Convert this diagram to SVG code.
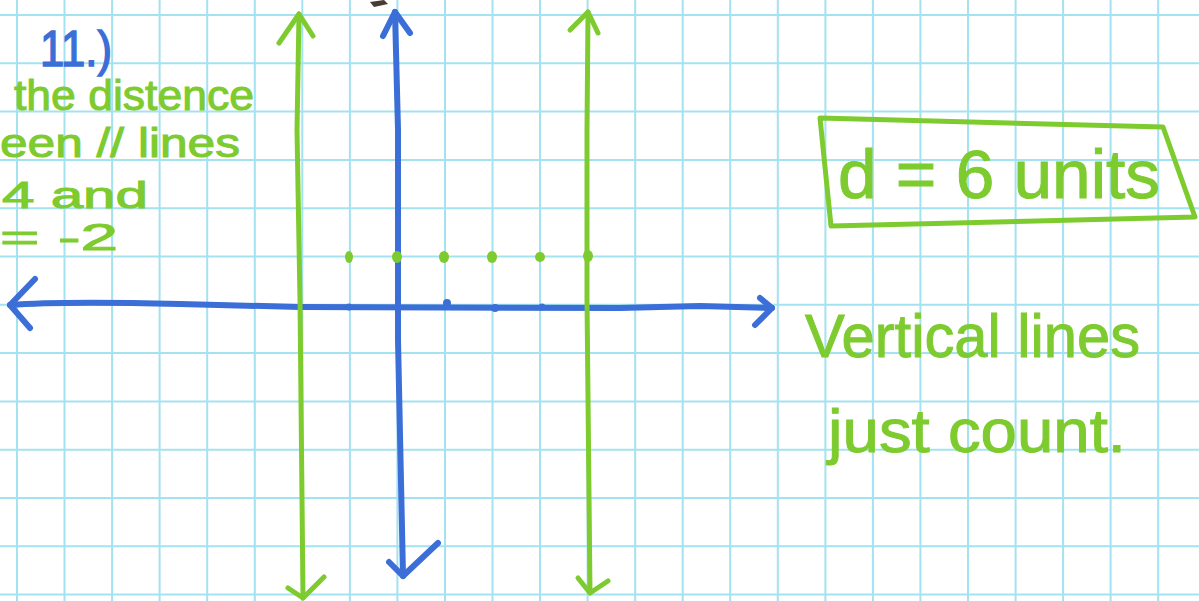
<svg xmlns="http://www.w3.org/2000/svg" width="1199" height="601" viewBox="0 0 1199 601">
<defs>
<style>
.grid{stroke:#a3e2f0;stroke-width:2;fill:none}
.g{stroke:#7dcb2f;stroke-width:5;fill:none;stroke-linecap:round;stroke-linejoin:round}
.b{stroke:#3b6ed6;stroke-width:6;fill:none;stroke-linecap:round;stroke-linejoin:round}
.gt{fill:#7dcb2f;stroke:#7dcb2f;stroke-width:1;font-family:"Liberation Sans",Arial,sans-serif}
.bt{fill:#3b6ed6;stroke:#3b6ed6;stroke-width:1.5;font-family:"Liberation Sans",Arial,sans-serif}
.dot{fill:#7dcb2f}
.tick{fill:#3b6ed6}
</style>
</defs>
<rect width="1199" height="601" fill="#ffffff"/>
<g id="grid" class="grid">
<path d="M17,0V601M64.5,0V601M112.1,0V601M159.6,0V601M207.2,0V601M254.8,0V601M302.3,0V601M349.9,0V601M397.4,0V601M445,0V601M492.5,0V601M540,0V601M587.6,0V601M635.2,0V601M682.7,0V601M730.2,0V601M777.8,0V601M825.4,0V601M872.9,0V601M920.4,0V601M968,0V601M1015.6,0V601M1063.1,0V601M1110.6,0V601M1158.2,0V601"/>
<path d="M0,15H1199M0,63.3H1199M0,111.6H1199M0,159.9H1199M0,208.2H1199M0,256.5H1199M0,304.8H1199M0,353.1H1199M0,401.4H1199M0,449.7H1199M0,498H1199M0,546.3H1199M0,594.6H1199"/>
</g>
<polygon points="370,2 384,0 388,4 374,7" fill="#4a3a35"/>
<g id="connectors">
<g id="x-axis" class="b">
<path d="M10,305 Q60,301 180,304 L300,307 L620,308 L700,306 L772,308"/>
<path d="M35,279 L10,305 L30,328"/>
<path d="M760,298 L772,308 L755,325"/>
</g>
<g id="y-axis" class="b">
<path d="M395,12 L398,130 L398,340 L403,576"/>
<path d="M383,36 L395,12 L410,33"/>
<path d="M389,562 L403,576 L438,543"/>
</g>
<g id="line-x-neg2" class="g">
<path d="M299,14 L297,130 L300,300 L303,598"/>
<path d="M279,43 L299,14 L313,36"/>
<path d="M288,588 L303,598 L324,577"/>
</g>
<g id="line-x-4" class="g">
<path d="M588,12 L587,130 L587,300 L590,593"/>
<path d="M570,30 L588,12 L598,33"/>
<path d="M578,578 L590,593 L608,581"/>
</g>
</g>
<g id="count-dots">
<ellipse class="dot" cx="349" cy="257" rx="4" ry="6"/>
<ellipse class="dot" cx="397" cy="257" rx="5" ry="6"/>
<ellipse class="dot" cx="444" cy="257" rx="5" ry="6"/>
<ellipse class="dot" cx="492" cy="257" rx="5" ry="6"/>
<ellipse class="dot" cx="540" cy="257" rx="5" ry="5"/>
<ellipse class="dot" cx="588" cy="256" rx="5" ry="6"/>
<circle class="tick" cx="349" cy="307" r="3.5"/>
<circle class="tick" cx="447" cy="303" r="4"/>
<circle class="tick" cx="495" cy="308" r="4"/>
<circle class="tick" cx="542" cy="307" r="3.5"/>
</g>
<g id="problem-label">
<text class="bt" x="40" y="66" font-size="50" textLength="72" lengthAdjust="spacingAndGlyphs">11.)</text>
<text class="gt" x="14" y="110" font-size="42" textLength="240" lengthAdjust="spacingAndGlyphs">the distence</text>
<text class="gt" x="0" y="157" font-size="40" textLength="240" lengthAdjust="spacingAndGlyphs">een // lines</text>
<text class="gt" x="2" y="208" font-size="36" textLength="146" lengthAdjust="spacingAndGlyphs">4 and</text>
<text class="gt" x="0" y="250" font-size="36" textLength="118" lengthAdjust="spacingAndGlyphs">= -2</text>
</g>
<g id="answer-box">
<path class="g" d="M820,118 L1163,127 L1195,217 L831,226 Z"/>
<text class="gt" x="838" y="198" font-size="68" textLength="322" lengthAdjust="spacingAndGlyphs">d = 6 units</text>
</g>
<g id="note">
<text class="gt" x="805" y="357" font-size="62" textLength="335" lengthAdjust="spacingAndGlyphs">Vertical lines</text>
<text class="gt" x="828" y="452" font-size="62" textLength="298" lengthAdjust="spacingAndGlyphs">just count.</text>
</g>
</svg>
